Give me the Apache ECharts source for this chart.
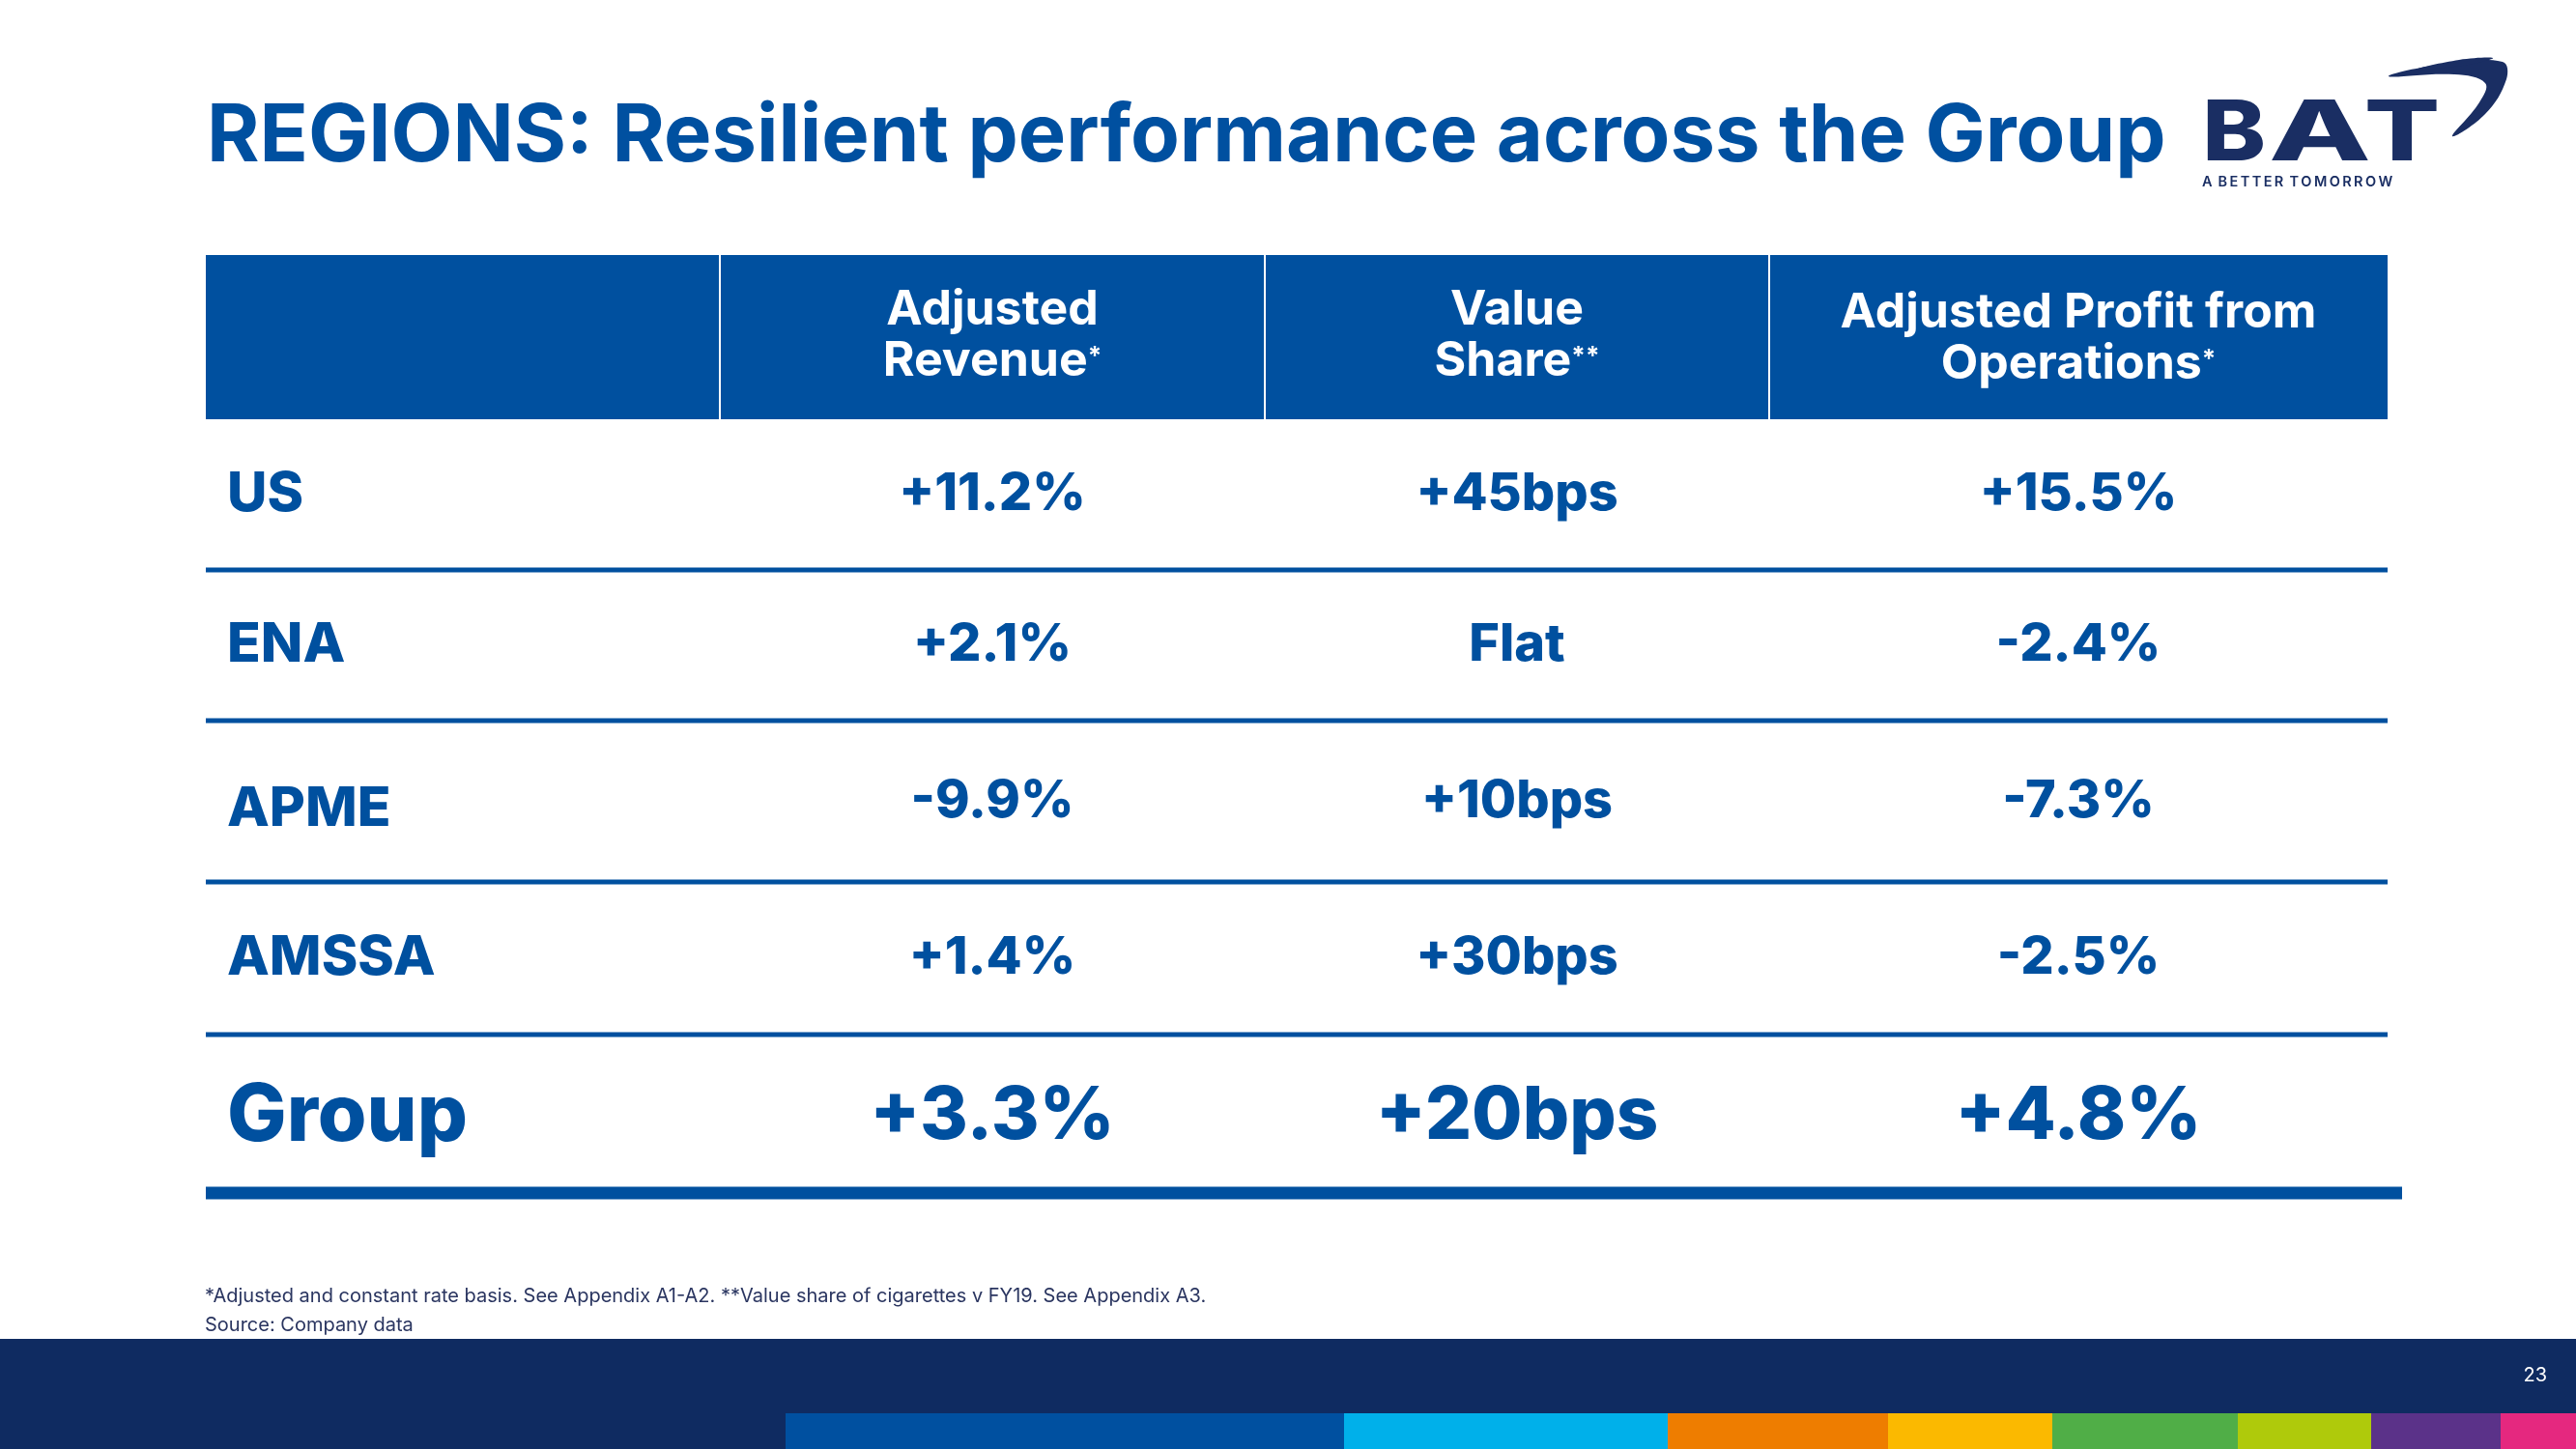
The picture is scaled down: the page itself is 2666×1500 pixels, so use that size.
<!DOCTYPE html>
<html>
<head>
<meta charset="utf-8">
<script src="https://cdn.jsdelivr.net/npm/echarts@6/dist/echarts.min.js"></script>
<style>
html,body{margin:0;padding:0;background:#fff;}
#chart{width:2666px;height:1500px;}
</style>
</head>
<body>
<div id="chart"></div>
<script>
// ---------- DATA ----------
const titleText = 'REGIONS: Resilient performance across the Group';
const columnHeaders = ['Adjusted\nRevenue', 'Value\nShare', 'Adjusted Profit from\nOperations'];
const columnMarks = ['*', '**', '*'];
const regions = ['US', 'ENA', 'APME', 'AMSSA', 'Group'];
const adjustedRevenue = ['+11.2%', '+2.1%', '-9.9%', '+1.4%', '+3.3%'];
const valueShare = ['+45bps', 'Flat', '+10bps', '+30bps', '+20bps'];
const adjustedProfit = ['+15.5%', '-2.4%', '-7.3%', '-2.5%', '+4.8%'];
const footnotes = ['*Adjusted and constant rate basis. See Appendix A1-A2. **Value share of cigarettes v FY19. See Appendix A3.', 'Source: Company data'];
const pageNumber = '23';

// ---------- LAYOUT / STYLE ----------
const BLUE = '#00509f';
const NAVY = '#0f2b61';
const FONT = 'Inter, "Open Sans", "Noto Sans", sans-serif';
const layout = {
  colW: [532, 564, 522, 640],
  rowH: [170, 156, 156, 167, 158, 164],
  labelPad: 22,
  lineW: 5,
  lastLineW: 13,
  lastLineExtend: 15
};
const colStart = layout.colW.reduce((a, w, i) => { a.push(i ? a[i - 1] + layout.colW[i - 1] : 0); return a; }, []);
const rowStart = layout.rowH.reduce((a, h, i) => { a.push(i ? a[i - 1] + layout.rowH[i - 1] : 0); return a; }, []);
const totalW = layout.colW.reduce((s, v) => s + v, 0);
const totalH = layout.rowH.reduce((s, v) => s + v, 0);

const valueCols = [null, adjustedRevenue, valueShare, adjustedProfit];
const cells = [];
for (let r = 0; r <= regions.length; r++) {
  for (let c = 0; c < layout.colW.length; c++) cells.push([c, r]);
}

function cellText(c, r) {
  if (c === 0) return regions[r - 1];
  return valueCols[c][r - 1];
}

function renderItem(params, api) {
  const c = api.value(0), r = api.value(1);
  const p0 = api.coord([colStart[c], rowStart[r]]);
  const p1 = api.coord([colStart[c] + layout.colW[c], rowStart[r] + layout.rowH[r]]);
  const w = p1[0] - p0[0], h = p1[1] - p0[1];
  const cx = p0[0] + w / 2, cy = p0[1] + h / 2;
  const children = [];
  if (r === 0) {
    children.push({ type: 'rect', shape: { x: p0[0], y: p0[1], width: w, height: h }, style: { fill: BLUE } });
    if (c > 0) {
      children.push({ type: 'rect', shape: { x: p0[0] - 1, y: p0[1], width: 2, height: h }, style: { fill: '#ffffff' } });
      const lines = columnHeaders[c - 1].split('\n');
      const txt = lines[0] + '\n' + lines[1] + '{s|' + columnMarks[c - 1] + '}';
      children.push({
        type: 'text',
        x: cx, y: cy - 2 + (c === 3 ? 3 : 0),
        style: {
          text: txt, fill: '#ffffff', fontFamily: FONT, fontWeight: 700, fontSize: 50,
          lineHeight: 53, align: 'center', verticalAlign: 'middle',
          rich: { s: { fontFamily: FONT, fontWeight: 700, fontSize: 26, fill: '#ffffff', lineHeight: 53, padding: [0, 0, 8, 0] } }
        }
      });
    }
  } else {
    const isTotal = r === regions.length;
    const size = isTotal ? (c === 0 ? 82 : 76) : (c === 0 ? 57 : 54);
    let dy = isTotal ? 3 : 0;
    if (c === 0 && regions[r - 1] === 'APME') dy = 8;
    children.push({
      type: 'text',
      x: c === 0 ? p0[0] + layout.labelPad : cx,
      y: cy + dy,
      style: {
        text: cellText(c, r), fill: BLUE, fontFamily: FONT, fontWeight: 800, fontSize: size,
        align: c === 0 ? 'left' : 'center', verticalAlign: 'middle'
      }
    });
    const lw = isTotal ? layout.lastLineW : layout.lineW;
    const ext = (isTotal && c === layout.colW.length - 1) ? layout.lastLineExtend : 0;
    children.push({ type: 'rect', shape: { x: p0[0], y: p1[1] - lw / 2, width: w + ext, height: lw }, style: { fill: BLUE } });
  }
  return { type: 'group', children };
}

// logo + footer decoration
const footerBars = [
  [813, 1391, '#0050a0'], [1391, 1726, '#00b0ea'], [1726, 1954, '#ee7d00'], [1954, 2124, '#fbb900'],
  [2124, 2316, '#50ae47'], [2316, 2454, '#afca0b'], [2454, 2588, '#5b3289'], [2588, 2666, '#e5287f']
];
const LOGO = '#1a2e63';
const logoLetter = (t, x, sx) => ({ type: 'text', x: x, y: 140, scaleX: sx, originX: 0, originY: 0,
  style: { text: t, fill: LOGO, fontFamily: FONT, fontWeight: 800, fontSize: 86, align: 'center', verticalAlign: 'middle' } });
const graphics = [
  { type: 'rect', shape: { x: 0, y: 1386, width: 2666, height: 114 }, style: { fill: NAVY }, z: 0 },
  { type: 'text', x: 2636, y: 1424, style: { text: pageNumber, fill: '#ffffff', fontFamily: FONT, fontSize: 20, align: 'right', verticalAlign: 'middle' } },
  { type: 'text', x: 212, y: 1342, style: { text: footnotes[0], fill: '#2a3560', fontFamily: FONT, fontSize: 20, align: 'left', verticalAlign: 'middle' } },
  { type: 'text', x: 212, y: 1372, style: { text: footnotes[1], fill: '#2a3560', fontFamily: FONT, fontSize: 20, align: 'left', verticalAlign: 'middle' } },
  logoLetter('B', 2312, 1.15),
  logoLetter('A', 2401, 1.6),
  logoLetter('T', 2486, 1.35),
  { type: 'text', x: 2279, y: 189, style: { text: 'A\u2009 B\u2009E\u2009T\u2009T\u2009E\u2009R\u2009 T\u2009O\u2009M\u2009O\u2009R\u2009R\u2009O\u2009W', fill: LOGO, fontFamily: FONT, fontWeight: 600, fontSize: 14.5, align: 'left', verticalAlign: 'middle' } },
  { type: 'polygon', shape: { smooth: 0.4, points: [[2472, 79], [2530, 66], [2590, 64], [2594, 82], [2572, 118], [2538, 141], [2566, 106], [2572, 86], [2540, 77]] }, style: { fill: LOGO } },
  { type: 'polygon', shape: { smooth: 0.4, points: [[2500, 72], [2545, 62], [2580, 60], [2560, 66], [2530, 70]] }, style: { fill: LOGO } }
];
footerBars.forEach(b => graphics.push({ type: 'rect', shape: { x: b[0], y: 1463, width: b[1] - b[0], height: 37 }, style: { fill: b[2] }, z: 1 }));

const chart = echarts.init(document.getElementById('chart'), null, { renderer: 'canvas' });
chart.setOption({
  backgroundColor: '#ffffff',
  animation: false,
  title: {
    text: titleText, left: 214, top: 100, padding: 0,
    textStyle: { color: '#0050a0', fontFamily: FONT, fontWeight: 700, fontSize: 83, lineHeight: 84 }
  },
  grid: { left: 213, top: 264, width: 2258, height: 971 },
  xAxis: { type: 'value', min: 0, max: totalW, show: false },
  yAxis: { type: 'value', min: 0, max: totalH, inverse: true, show: false },
  series: [{
    type: 'custom', renderItem: renderItem, data: cells, clip: false, silent: true
  }],
  graphic: { elements: graphics }
});
</script>
</body>
</html>
